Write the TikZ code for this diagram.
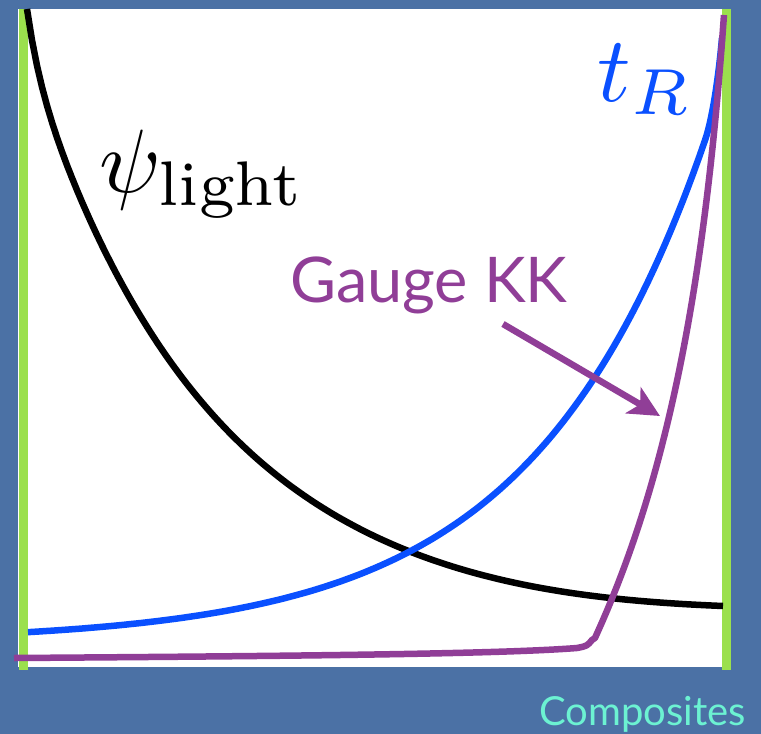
\documentclass[tikz,border=0pt]{standalone}
\usepackage{fontspec}
\usepackage{amsmath}
\usepackage{tikz}
\usetikzlibrary{arrows.meta}
\newfontfamily\slidefont{Lato}
\definecolor{slidebg}{HTML}{4B71A5}
\definecolor{brane}{HTML}{9BE04D}
\definecolor{topblue}{HTML}{0A50FF}
\definecolor{kkpurple}{HTML}{903E97}
\definecolor{teal}{HTML}{6CF2D2}

\begin{document}
\begin{tikzpicture}[
  x=1pt, y=-1pt,
  profile/.style={line width=6.5pt, line join=round},
  branewall/.style={draw=brane, line width=9pt},
  label/.style={inner sep=0pt, anchor=base west},
  arrow/.style={-{Stealth[length=31pt, width=30pt, inset=8pt]}, line width=6.5pt, draw=kkpurple}
]
\useasboundingbox (0,0) rectangle (761,734);
\fill[slidebg] (0,0) rectangle (761,734);
\fill[white] (18,9) rectangle (727,667);
% the two branes
\draw[branewall] (23,9) -- (23,670);
\draw[branewall] (726.5,9) -- (726.5,670);
% profiles
\draw[profile, black] plot[domain=27:723, samples=140]
  (\x, {609-553*exp(-0.0056*(\x-27))*exp(-((\x-27)/650)^4)-47*exp(-min(\x-27,100)/12)});
\draw[profile, topblue] plot[domain=28:705, samples=120]
  (\x, {642-560*exp(0.0058*(\x-724))})
  .. controls (713,117) and (719,72) .. (722,38);
\draw[profile, kkpurple] (14,658) .. controls (300,656) and (500,654) .. (577,648)
  .. controls (587,646) .. (592,640)
  -- plot[variable=\t, domain=638:15, samples=90] ({725-22.4*(exp(0.003*\t)-1)}, \t);
% labels
\node[label, scale=9] (psi) at (98,192) {$\psi_{\text{light}}$};
\node[label, scale=9.3, text=topblue] (tr) at (596,101) {$t_R$};
\node[label, text=kkpurple, font=\slidefont\fontsize{63}{70}\selectfont] (gauge) at (290,302) {Gauge KK};
\node[label, text=teal, font=\slidefont\fontsize{40}{44}\selectfont] (comp) at (539,725) {Composites};
\coordinate (kktail) at (503,324);
\coordinate (kktip) at (660,416);
\draw[arrow] (kktail) -- (kktip);
\end{tikzpicture}
\end{document}
